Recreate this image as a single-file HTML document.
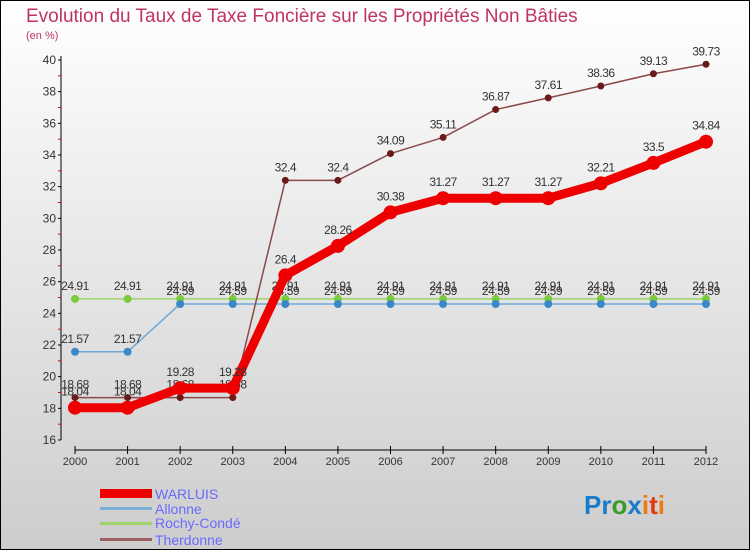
<!DOCTYPE html>
<html><head><meta charset="utf-8"><style>
html,body{margin:0;padding:0}
body{width:750px;height:550px;overflow:hidden;font-family:"Liberation Sans",sans-serif}
svg{display:block}
</style></head><body>
<svg id="c" width="750" height="550" xmlns="http://www.w3.org/2000/svg">
<defs><linearGradient id="bg" x1="0" y1="0" x2="0" y2="1"><stop offset="0" stop-color="#ffffff"/><stop offset="1" stop-color="#cdcdcd"/></linearGradient></defs>
<rect x="0.5" y="0.5" width="749" height="549" fill="url(#bg)" stroke="#000"/>
<text x="26" y="22" font-size="19" fill="#c0345f">Evolution du Taux de Taxe Foncière sur les Propriétés Non Bâties</text>
<text x="26" y="39" font-size="11" fill="#c0345f">(en %)</text>
<g id="axes"></g><g id="series"></g>
<g>
<rect x="100" y="489" width="52" height="9" fill="#e00"/>
<text x="155" y="499" font-size="14" fill="#6a6aff">WARLUIS</text>
<rect x="100" y="507" width="52" height="3" fill="#7aaed3"/>
<text x="155" y="514" font-size="14" fill="#6a6aff">Allonne</text>
<rect x="100" y="522" width="52" height="3" fill="#9ed46a"/>
<text x="155" y="528" font-size="14" fill="#6a6aff">Rochy-Condé</text>
<rect x="100" y="538" width="52" height="3" fill="#9a6060"/>
<text x="155" y="545" font-size="14" fill="#6a6aff">Therdonne</text>
</g>
<g font-size="26" font-weight="bold">
<text x="584" y="514"><tspan fill="#1a7cc9">Pr</tspan><tspan fill="#3a9a2a">o</tspan><tspan fill="#1a7cc9">x</tspan><tspan fill="#f07a10">i</tspan><tspan fill="#e03a10">t</tspan><tspan fill="#f07a10">i</tspan></text>
</g>
</svg>
<script>
const years=[2000,2001,2002,2003,2004,2005,2006,2007,2008,2009,2010,2011,2012];
const warluis=[18.04,18.04,19.28,19.28,26.4,28.26,30.38,31.27,31.27,31.27,32.21,33.5,34.84];
const allonne=[21.57,21.57,24.59,24.59,24.59,24.59,24.59,24.59,24.59,24.59,24.59,24.59,24.59];
const rochy=[24.91,24.91,24.91,24.91,24.91,24.91,24.91,24.91,24.91,24.91,24.91,24.91,24.91];
const therdonne=[18.68,18.68,18.68,18.68,32.4,32.4,34.09,35.11,36.87,37.61,38.36,39.13,39.73];
const yTicks=[16,18,20,22,24,26,28,30,32,34,36,38,40];
const NS='http://www.w3.org/2000/svg';
const X=i=>75+i*(706-75)/(years.length-1);
const Y=v=>440-(v-16)*(380/24);
function mk(p,t,a){const e=document.createElementNS(NS,t);for(const k in a)e.setAttribute(k,a[k]);p.appendChild(e);return e;}
const ax=document.getElementById('axes');
const yl=mk(ax,'line',{x1:61,y1:56,x2:61,y2:440,stroke:'#000'});


yTicks.forEach(v=>{
 mk(ax,'line',{x1:58,y1:Y(v),x2:61,y2:Y(v),stroke:'#000'});
 mk(ax,'line',{x1:58,y1:Y(v+1),x2:61,y2:Y(v+1),stroke:'#e00'}).setAttribute('visibility',v<40?'visible':'hidden');
 const t=mk(ax,'text',{x:56,y:Y(v)+4,'font-size':12,fill:'#333','text-anchor':'end'});
 t.textContent=v;
 
 
});
const xl=mk(ax,'line',{x1:75,y1:450,x2:706,y2:450,stroke:'#000'});


years.forEach((y,i)=>{
 mk(ax,'line',{x1:X(i),y1:446,x2:X(i),y2:454,stroke:'#000'});
 const t=mk(ax,'text',{x:X(i),y:465,'font-size':11,fill:'#333','text-anchor':'middle'});
 t.textContent=y;
 
 
});
const sg=document.getElementById('series');
function series(name,vals,color,w,r,dot,labDy){
 const g=mk(sg,'g',{});
 
 
 const pl=mk(g,'polyline',{points:vals.map((v,i)=>X(i)+','+Y(v)).join(' '),fill:'none',stroke:color,'stroke-width':w,'stroke-linejoin':'round'});
 
 
 vals.forEach((v,i)=>{
  const c=mk(g,'circle',{cx:X(i),cy:Y(v),r:r,fill:dot});
  
  
  const t=mk(g,'text',{x:X(i),y:Y(v)-labDy,'font-size':12,fill:'#333','text-anchor':'middle','letter-spacing':'-0.5'});
  t.textContent=v;
  
  
 });
}
series('rochy-conde',rochy,'#9ed46a',1.5,4,'#7acb3a',9);
series('allonne',allonne,'#6aaad8',1.5,4,'#3a88c8',9);
series('therdonne',therdonne,'#8a4a4a',1.5,3.5,'#6a1a1a',9);
series('warluis',warluis,'#ee0000',9,7,'#ee0000',12);
</script>
</body></html>
